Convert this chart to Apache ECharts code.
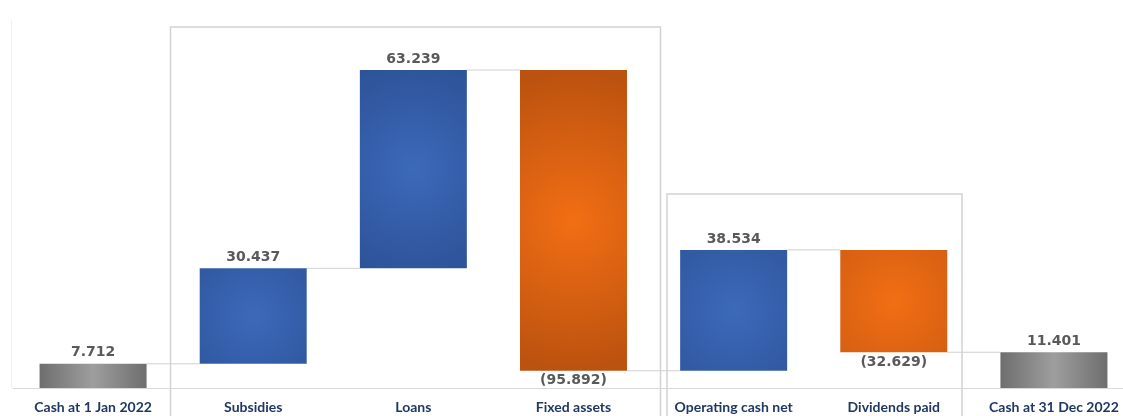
<!DOCTYPE html>
<html>
<head>
<meta charset="utf-8">
<script src="https://cdn.jsdelivr.net/npm/echarts@6/dist/echarts.min.js"></script>
<style>
  html, body { margin: 0; padding: 0; background: #ffffff; }
  #chart { width: 1123px; height: 416px; }
</style>
</head>
<body>
<div id="chart"></div>
<script>
// Cash flow bridge for 2022
const categories = ['Cash at 1 Jan 2022', 'Subsidies', 'Loans', 'Fixed assets', 'Operating cash net', 'Dividends paid', 'Cash at 31 Dec 2022'];
const openingCash = 7.712;
const movements = [30.437, 63.239, -95.892, 38.534, -32.629];   // Subsidies .. Dividends paid
const closingCash = 11.401;

// Build the invisible base and visible span for each bar
const baseData = [];
const spanData = [];
const kinds = [];
let running = 0;
baseData.push(0); spanData.push(openingCash); kinds.push('total');
running = openingCash;
movements.forEach(v => {
  const next = running + v;
  baseData.push(Math.min(running, next));
  spanData.push(Math.abs(v));
  kinds.push(v >= 0 ? 'up' : 'down');
  running = next;
});
baseData.push(0); spanData.push(closingCash); kinds.push('total');

// Levels for the connector lines between neighbouring bars
const levels = [openingCash];
running = openingCash;
movements.forEach(v => { running += v; levels.push(running); });

const BAR_W = 107;

const grayFill = {
  type: 'linear', x: 0, y: 0, x2: 1, y2: 0,
  colorStops: [
    { offset: 0, color: '#6e6e6e' },
    { offset: 0.5, color: '#9e9e9e' },
    { offset: 1, color: '#6e6e6e' }
  ]
};
const blueFill = {
  type: 'radial', x: 0.5, y: 0.5, r: 1.2,
  colorStops: [
    { offset: 0, color: '#3c69ba' },
    { offset: 1, color: '#2b4f92' }
  ]
};
const orangeFill = {
  type: 'radial', x: 0.5, y: 0.5, r: 1.4,
  colorStops: [
    { offset: 0, color: '#f26e14' },
    { offset: 1, color: '#bb520f' }
  ]
};

function fmt(v) { return v.toFixed(3); }

const spanItems = spanData.map((v, i) => {
  const k = kinds[i];
  const color = k === 'total' ? grayFill : (k === 'up' ? blueFill : orangeFill);
  const text = k === 'down' ? '(' + fmt(v) + ')' : fmt(v);
  return {
    value: v,
    itemStyle: { color: color },
    label: {
      show: true,
      position: k === 'down' ? 'bottom' : 'top',
      distance: k === 'down' ? 3 : 4,
      formatter: text
    }
  };
});

const chart = echarts.init(document.getElementById('chart'), null, { renderer: 'canvas' });

chart.setOption({
  animation: false,
  backgroundColor: '#ffffff',
  grid: { left: 13, width: 1121, top: 43, bottom: 28, containLabel: false, outerBoundsMode: 'none' },
  xAxis: {
    type: 'category',
    data: categories,
    axisLine: { show: true, lineStyle: { color: '#d9d9d9', width: 1 } },
    axisTick: { show: false },
    axisLabel: {
      margin: 12,
      interval: 0,
      color: '#1f3864',
      fontFamily: 'Lato',
      fontWeight: 'bold',
      fontSize: 14
    }
  },
  yAxis: {
    type: 'value',
    min: 0,
    max: 110,
    show: false,
    splitLine: { show: false }
  },
  series: [
    {
      type: 'bar',
      stack: 'bridge',
      barWidth: BAR_W,
      itemStyle: { color: 'transparent' },
      emphasis: { disabled: true },
      data: baseData
    },
    {
      type: 'bar',
      stack: 'bridge',
      barWidth: BAR_W,
      label: {
        color: '#595959',
        fontFamily: 'DejaVu Sans',
        fontWeight: 'bold',
        fontSize: 14
      },
      data: spanItems
    },
    {
      // thin connectors from one bar's edge to the next at the running level
      type: 'custom',
      z: 1,
      data: levels.map((lv, i) => [i, lv]),
      renderItem: function (params, api) {
        const i = api.value(0);
        const lv = api.value(1);
        const half = BAR_W / 2;
        const p1 = api.coord([i, lv]);
        const p2 = api.coord([i + 1, lv]);
        return {
          type: 'line',
          shape: { x1: p1[0] + half, y1: p1[1], x2: p2[0] - half, y2: p2[1] },
          style: { stroke: '#d0d0d0', lineWidth: 1 }
        };
      }
    }
  ],
  graphic: [
    {
      type: 'rect',
      silent: true,
      shape: { x: 170.5, y: 27, width: 490, height: 420 },
      style: { fill: 'none', stroke: '#d2d2d2', lineWidth: 1.5 }
    },
    {
      type: 'rect',
      silent: true,
      shape: { x: 667, y: 194, width: 295, height: 300 },
      style: { fill: 'none', stroke: '#d2d2d2', lineWidth: 1.5 }
    },
    {
      type: 'line',
      silent: true,
      shape: { x1: 11.5, y1: 20, x2: 11.5, y2: 388 },
      style: { stroke: '#f0f0f0', lineWidth: 1 }
    }
  ]
});
</script>
</body>
</html>
